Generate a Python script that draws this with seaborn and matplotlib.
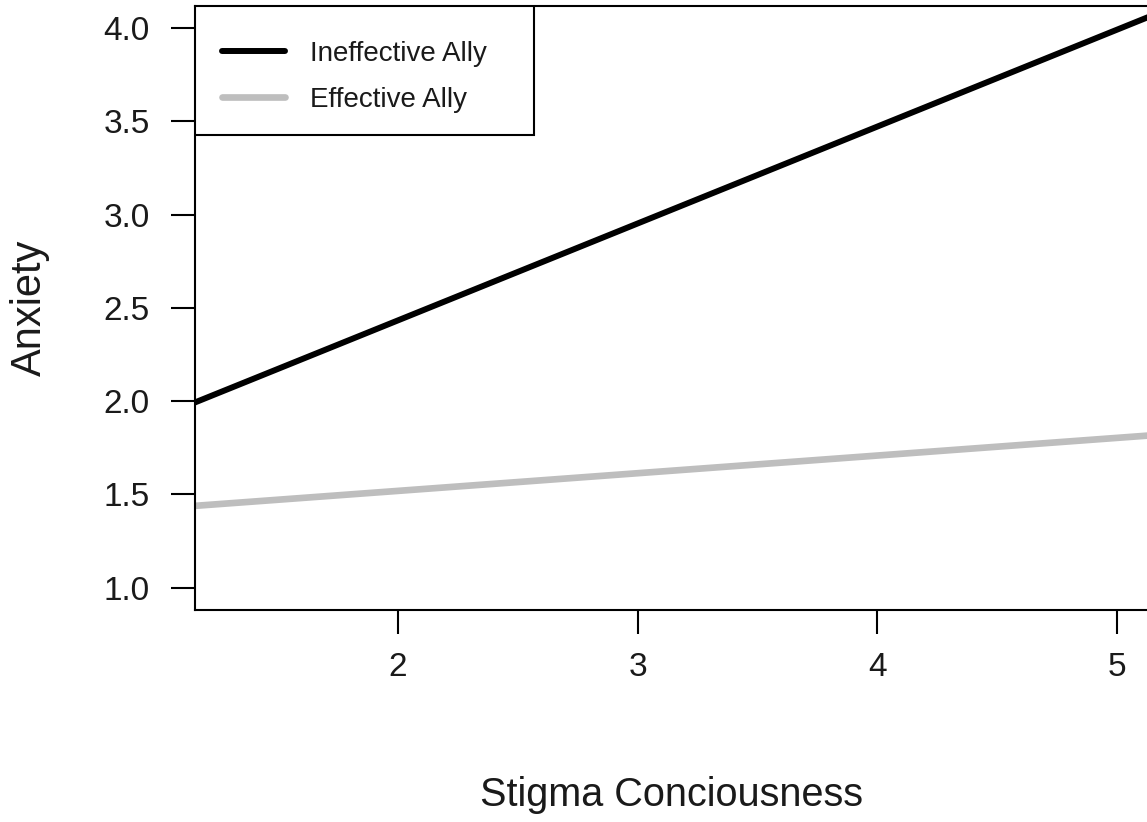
import matplotlib
matplotlib.use("Agg")
import matplotlib.pyplot as plt
from matplotlib.patches import Rectangle
import seaborn as sns
import pandas as pd

# Fitted simple slopes of anxiety on stigma consciousness, by ally condition
stigma = [1.0, 5.5]
ineffective_ally = [1.914, 4.250]
effective_ally = [1.424, 1.850]
conditions = ["Ineffective Ally", "Effective Ally"]
line_colors = ["#000000", "#BEBEBE"]
x_ticks = [2, 3, 4, 5]
y_ticks = [1.0, 1.5, 2.0, 2.5, 3.0, 3.5, 4.0]

df = pd.DataFrame({
    "Stigma Conciousness": stigma * 2,
    "Anxiety": ineffective_ally + effective_ally,
    "Condition": [conditions[0]] * len(stigma) + [conditions[1]] * len(stigma),
})

sns.set_style("white")
plt.rcParams["font.family"] = ["Liberation Sans", "DejaVu Sans"]
text_color = "#1a1a1a"

fig = plt.figure(figsize=(11.47, 8.22), dpi=100)
W, H = 1147, 822
left, right, top, bottom = 195, 1152, 5.7, 610
ax = fig.add_axes([left / W, 1 - bottom / H, (right - left) / W, (bottom - top) / H])

sns.lineplot(data=df, x="Stigma Conciousness", y="Anxiety", hue="Condition",
             hue_order=conditions, palette=line_colors, ax=ax, legend=False)
line_widths = [4.3, 4.8]
for line, lw in zip(ax.lines, line_widths):
    line.set_linewidth(lw)
    line.set_solid_capstyle("butt")

ax.set_xlim(1.152, 5.148)
ax.set_ylim(0.88, 4.12)
ax.set_xticks(x_ticks)
ax.set_xticklabels([str(t) for t in x_ticks])
ax.set_yticks(y_ticks)
ax.set_yticklabels([f"{t:.1f}" for t in y_ticks])

for side in ["left", "bottom", "top", "right"]:
    ax.spines[side].set_visible(True)
    ax.spines[side].set_color("black")
    ax.spines[side].set_linewidth(1.5)

ax.tick_params(axis="both", which="major", direction="out", length=17.5,
               width=1.5, color="black", labelsize=24, labelcolor=text_color,
               bottom=True, left=True)
ax.tick_params(axis="y", pad=15)
ax.tick_params(axis="x", pad=13)

ax.set_xlabel("Stigma Conciousness", fontsize=28.5, color=text_color)
ax.set_ylabel("Anxiety", fontsize=30, color=text_color)
ax.xaxis.set_label_coords((672 - left) / (right - left), (bottom - 795) / (bottom - top))
ax.xaxis.label.set_va("center")
ax.yaxis.set_label_coords((30 - left) / (right - left), (bottom - 308) / (bottom - top))
ax.yaxis.label.set_va("center")

# Legend entries, with a plain square box drawn behind them
handles = [plt.Line2D([], [], color=c, lw=lw) for c, lw in zip(line_colors, line_widths)]
leg = ax.legend(handles, conditions, loc="upper left",
                bbox_to_anchor=((222 - left) / (right - left), (bottom - 41) / (bottom - top)),
                frameon=False, fontsize=20, handlelength=2.27,
                handletextpad=0.9, borderpad=0.0, labelspacing=0.72,
                borderaxespad=0)
for t in leg.get_texts():
    t.set_color(text_color)
box = Rectangle((0, (bottom - 135) / (bottom - top)), (534 - left) / (right - left),
                (135 - top) / (bottom - top), transform=ax.transAxes,
                facecolor="white", edgecolor="black", linewidth=1.5, zorder=4)
ax.add_patch(box)
leg.set_zorder(5)

fig.savefig("out.png", dpi=100)
